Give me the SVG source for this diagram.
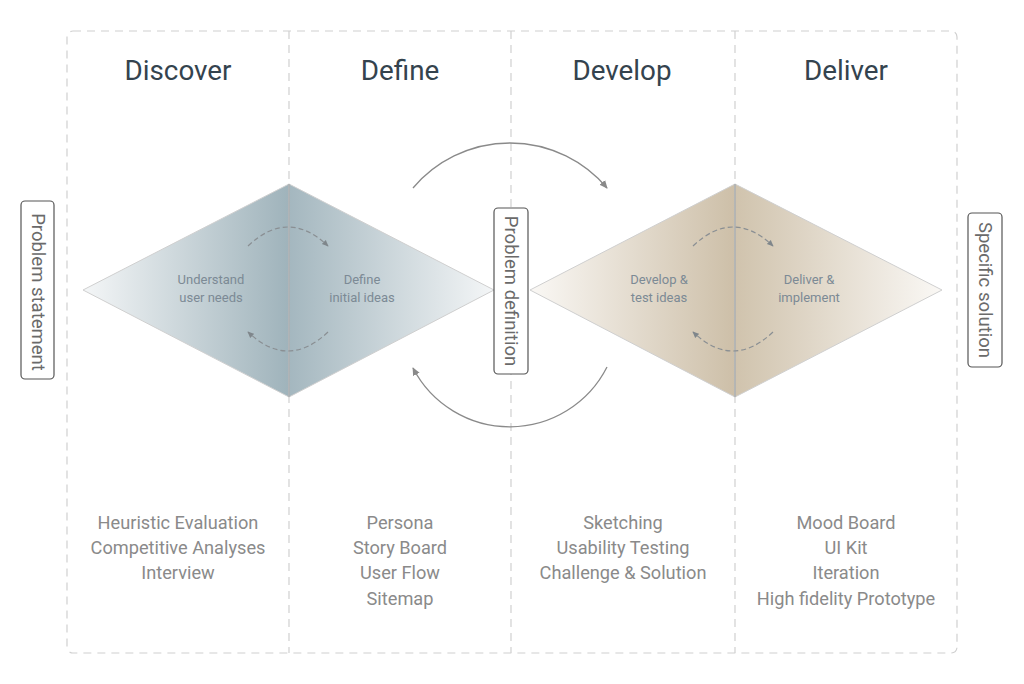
<svg xmlns="http://www.w3.org/2000/svg" width="1024" height="684" viewBox="0 0 1024 684">
<style>
.frame{fill:none;stroke:#d0d0d0;stroke-width:1.2;stroke-dasharray:8 6}
.title{font-family:Roboto,"Liberation Sans",sans-serif;font-size:27.8px;fill:#34434e;text-anchor:middle}
.inner{font-family:Roboto,"Liberation Sans",sans-serif;font-size:13px;fill:#7c8a95;text-anchor:middle}
.list{font-family:Roboto,"Liberation Sans",sans-serif;font-size:18.2px;fill:#8a8a8a;text-anchor:middle}
.vlabel{font-family:Roboto,"Liberation Sans",sans-serif;font-size:18.5px;fill:#6a6a6a;text-anchor:middle;dominant-baseline:central}
.vbox{fill:#fff;stroke:#555;stroke-width:1.2}
.dia{stroke:#cfcfcf;stroke-width:1}
.mid{stroke:#9aa0a4;stroke-width:1;fill:none}
.loop{fill:none;stroke:#8a8f93;stroke-width:1.2;stroke-dasharray:5 3}
.big{fill:none;stroke:#8a8a8a;stroke-width:1.3}
</style>
<defs>
<linearGradient id="gBlueL" x1="0" y1="0" x2="1" y2="0"><stop offset="0" stop-color="#f4f6f7"/><stop offset="1" stop-color="#9fb3bb"/></linearGradient>
<linearGradient id="gBlueR" x1="0" y1="0" x2="1" y2="0"><stop offset="0" stop-color="#a4b7bf"/><stop offset="1" stop-color="#f4f6f7"/></linearGradient>
<linearGradient id="gTanL" x1="0" y1="0" x2="1" y2="0"><stop offset="0" stop-color="#faf8f5"/><stop offset="1" stop-color="#cdbfa8"/></linearGradient>
<linearGradient id="gTanR" x1="0" y1="0" x2="1" y2="0"><stop offset="0" stop-color="#d0c3ad"/><stop offset="1" stop-color="#faf8f5"/></linearGradient>
<marker id="ah" viewBox="0 0 10 10" refX="8" refY="5" markerWidth="7" markerHeight="7" orient="auto"><path d="M0,1 L9,5 L0,9 Z" fill="#8a8a8a"/></marker>
<marker id="ahs" viewBox="0 0 10 10" refX="8" refY="5" markerWidth="6" markerHeight="6" orient="auto"><path d="M0,1 L9,5 L0,9 Z" fill="#7f868b"/></marker>
</defs>
<rect width="1024" height="684" fill="#fff"/>
<g id="frame">
<rect class="frame" x="67" y="31" width="890" height="622" rx="6"/>
<line class="frame" x1="289" y1="31" x2="289" y2="653"/>
<line class="frame" x1="511" y1="31" x2="511" y2="653"/>
<line class="frame" x1="735" y1="31" x2="735" y2="653"/>
</g>
<g id="titles">
<text class="title" x="178" y="80">Discover</text>
<text class="title" x="400" y="80">Define</text>
<text class="title" x="622" y="80">Develop</text>
<text class="title" x="846" y="80">Deliver</text>
</g>
<g id="diamond-discover-define">
<polygon class="dia" points="83,290 289,184 289,397" fill="url(#gBlueL)"/>
<polygon class="dia" points="289,184 494,290 289,397" fill="url(#gBlueR)"/>
<line class="mid" x1="289" y1="184" x2="289" y2="397"/>
<text class="inner" x="211" y="284">Understand</text>
<text class="inner" x="211" y="302">user needs</text>
<text class="inner" x="362" y="284">Define</text>
<text class="inner" x="362" y="302">initial ideas</text>
<path class="loop" d="M248,246 Q288,208 328,246" marker-end="url(#ahs)"/>
<path class="loop" d="M328,332 Q288,370 248,332" marker-end="url(#ahs)"/>
</g>
<g id="diamond-develop-deliver">
<polygon class="dia" points="530,290 735,184 735,397" fill="url(#gTanL)"/>
<polygon class="dia" points="735,184 942,290 735,397" fill="url(#gTanR)"/>
<line class="mid" x1="735" y1="184" x2="735" y2="397"/>
<text class="inner" x="659" y="284">Develop &amp;</text>
<text class="inner" x="659" y="302">test ideas</text>
<text class="inner" x="809" y="284">Deliver &amp;</text>
<text class="inner" x="809" y="302">implement</text>
<path class="loop" d="M693,246 Q733,208 773,246" marker-end="url(#ahs)"/>
<path class="loop" d="M773,332 Q733,370 693,332" marker-end="url(#ahs)"/>
</g>
<g id="connectors">
<path class="big" d="M413,188 A127,127 0 0,1 607,188" marker-end="url(#ah)"/>
<path class="big" d="M607,367 A109,109 0 0,1 413,368" marker-end="url(#ah)"/>
</g>
<g id="label-problem-statement">
<rect class="vbox" x="21" y="201" width="33" height="178" rx="4"/>
<text class="vlabel" transform="translate(37.5,292) rotate(90)">Problem statement</text>
</g>
<g id="label-problem-definition">
<rect class="vbox" x="494" y="208" width="34" height="166" rx="4"/>
<text class="vlabel" transform="translate(511,291) rotate(90)">Problem definition</text>
</g>
<g id="label-specific-solution">
<rect class="vbox" x="968" y="213" width="34" height="154" rx="4"/>
<text class="vlabel" transform="translate(985,290) rotate(90)">Specific solution</text>
</g>
<g id="list-discover">
<text class="list" x="178" y="529">Heuristic Evaluation</text>
<text class="list" x="178" y="554">Competitive Analyses</text>
<text class="list" x="178" y="579">Interview</text>
</g>
<g id="list-define">
<text class="list" x="400" y="529">Persona</text>
<text class="list" x="400" y="554">Story Board</text>
<text class="list" x="400" y="579">User Flow</text>
<text class="list" x="400" y="605">Sitemap</text>
</g>
<g id="list-develop">
<text class="list" x="623" y="529">Sketching</text>
<text class="list" x="623" y="554">Usability Testing</text>
<text class="list" x="623" y="579">Challenge &amp; Solution</text>
</g>
<g id="list-deliver">
<text class="list" x="846" y="529">Mood Board</text>
<text class="list" x="846" y="554">UI Kit</text>
<text class="list" x="846" y="579">Iteration</text>
<text class="list" x="846" y="605">High fidelity Prototype</text>
</g>
</svg>
